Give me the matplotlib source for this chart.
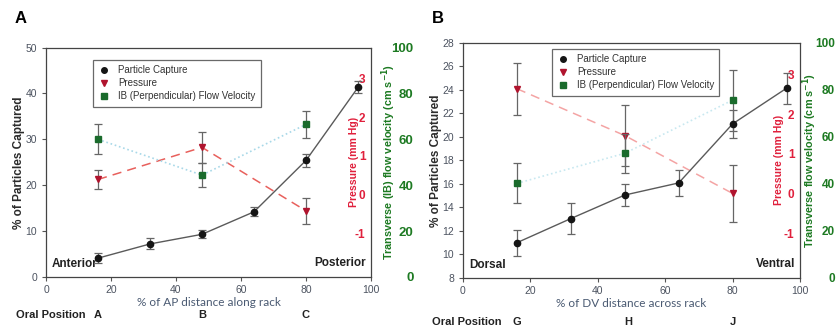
import matplotlib
matplotlib.use("Agg")
import matplotlib.pyplot as plt
from matplotlib.lines import Line2D

plt.rcParams['font.family'] = ['Liberation Sans', 'DejaVu Sans']
plt.rcParams['axes.unicode_minus'] = False

# ---- data ----
capture_x = [16, 32, 48, 64, 80, 96]
probe_x = [16, 48, 80]

# panel A (AP)
a_capture = [4.1, 7.2, 9.3, 14.2, 25.4, 41.3]
a_capture_err = [1.1, 1.2, 0.9, 1.0, 1.4, 1.3]
a_pressure = [0.39, 1.22, -0.42]
a_pressure_err = [0.25, 0.4, 0.33]
a_velocity = [60, 44.4, 66.5]
a_velocity_err = [6.5, 5.2, 6.0]
a_oral = ['A', 'B', 'C']

# panel B (DV)
b_capture = [11.0, 13.05, 15.05, 16.08, 21.1, 24.13]
b_capture_err = [1.1, 1.3, 0.9, 1.1, 1.2, 1.3]
b_pressure = [2.64, 1.46, 0.0]
b_pressure_err = [0.66, 0.76, 0.72]
b_velocity = [40.2, 53.0, 75.6]
b_velocity_err = [8.5, 8.2, 13.0]
b_oral = ['G', 'H', 'J']

fig = plt.figure(figsize=(8.38, 3.34), dpi=100)

tick_gray = '#4c5360'
red = '#e0203c'
green = '#1d7a22'


def panel(rect, letter, cap, cap_err, pres, pres_err, vel, vel_err,
          ylim, yticks, xlabel, vlabel, ends, oral, oral_x, oral_y,
          styles, leg_bbox, p_pad, v_pos, v_size, v_pad):
    ax = fig.add_axes(rect)
    ax_p = ax.twinx()
    ax_v = ax.twinx()
    for a in (ax_p, ax_v):
        for s in a.spines.values():
            s.set_visible(False)
    red_line, cyan_line = styles

    # velocity (green squares, dotted cyan)
    ax_v.errorbar(probe_x, vel, yerr=vel_err, color=cyan_line, ls=':', lw=1.2,
                  marker='s', ms=4.5, mfc='#1a6b2c', mec='#1a6b2c',
                  ecolor='#666666', elinewidth=0.9, capsize=3, capthick=0.9)
    # pressure (red triangles, dashed)
    ax_p.errorbar(probe_x, pres, yerr=pres_err, color=red_line, ls=(0, (6, 4)), lw=1.1,
                  marker='v', ms=5, mfc='#b0142e', mec='#b0142e',
                  ecolor='#666666', elinewidth=0.9, capsize=3, capthick=0.9)
    # particle capture
    ax.errorbar(capture_x, cap, yerr=cap_err, color='#5a5a5a', lw=1.0,
                marker='o', ms=4.5, mfc='#151515', mec='#151515',
                ecolor='#666666', elinewidth=0.9, capsize=3, capthick=0.9, zorder=5)
    ax.set_zorder(3)
    ax.patch.set_visible(False)

    ax.set_xlim(0, 100)
    ax.set_xticks([0, 20, 40, 60, 80, 100])
    ax.set_ylim(*ylim)
    ax.set_yticks(yticks)
    ax.tick_params(axis='both', direction='out', length=3, width=0.8,
                   colors='#555555', labelcolor=tick_gray, labelsize=7.5)
    ax.tick_params(axis='x', pad=3)
    for s in ax.spines.values():
        s.set_color('#444444')
        s.set_linewidth(0.9)
    ax.set_xlabel(xlabel, family=['Lato', 'DejaVu Sans'], fontsize=8.5,
                  color='#4a5a72', labelpad=1)
    ax.set_ylabel('% of Particles Captured', fontsize=8.5, fontweight='bold',
                  color='#2b2b2b', labelpad=0)

    # pressure axis, labels just inside the right edge
    ax_p.set_ylim(-2.13, 3.8)
    ax_p.set_yticks([-1, 0, 1, 2, 3])
    ax_p.spines['left'].set_position(('axes', 1.0))
    ax_p.yaxis.set_ticks_position('left')
    ax_p.yaxis.set_label_position('left')
    ax_p.tick_params(axis='y', length=0, pad=4, labelcolor=red, labelsize=8.5)
    for t in ax_p.get_yticklabels():
        t.set_fontweight('bold')
    ax_p.set_ylabel('Pressure (mm Hg)', color=red, fontsize=7.6,
                    fontweight='bold', labelpad=p_pad)

    # velocity axis, outside the box
    ax_v.set_ylim(0, 100)
    ax_v.set_yticks([0, 20, 40, 60, 80, 100])
    ax_v.spines['left'].set_position(('axes', v_pos))
    ax_v.yaxis.set_ticks_position('left')
    ax_v.yaxis.set_label_position('left')
    ax_v.tick_params(axis='y', length=0, pad=1, labelcolor=green, labelsize=v_size)
    for t in ax_v.get_yticklabels():
        t.set_fontweight('bold')
    ax_v.set_ylabel(vlabel, color=green, fontsize=7.8, fontweight='bold',
                    labelpad=v_pad)

    ax.text(0.018, 0.03, ends[0], transform=ax.transAxes, fontsize=8.5,
            fontweight='bold', color='#222222', ha='left', va='bottom')
    ax.text(0.985, 0.035, ends[1], transform=ax.transAxes, fontsize=8.5,
            fontweight='bold', color='#222222', ha='right', va='bottom')

    # oral positions under the axis
    ax.text(-0.093, oral_y, 'Oral Position', transform=ax.transAxes, fontsize=8,
            fontweight='bold', color='#222222', ha='left', va='center')
    for xx, lab in zip(oral_x, oral):
        ax.text(xx, oral_y, lab, transform=ax.get_xaxis_transform(), fontsize=8,
                fontweight='bold', color='#222222', ha='center', va='center')

    fig.text(rect[0] - 0.037, 0.945, letter, fontsize=12, fontweight='bold',
             ha='left', va='center')

    handles = [
        Line2D([], [], ls='none', marker='o', ms=4, mfc='#151515', mec='#151515'),
        Line2D([], [], ls='none', marker='v', ms=4, mfc='#b0142e', mec='#b0142e'),
        Line2D([], [], ls='none', marker='s', ms=4, mfc='#1a6b2c', mec='#1a6b2c'),
    ]
    leg = ax.legend(handles, ['Particle Capture', 'Pressure',
                              'IB (Perpendicular) Flow Velocity'],
                    loc='upper left', bbox_to_anchor=leg_bbox, borderaxespad=0,
                    fontsize=7, frameon=True, fancybox=False, handlelength=1.2,
                    handletextpad=0.8, labelspacing=0.3, borderpad=0.55,
                    labelcolor='#333333')
    leg.get_frame().set_edgecolor('#444444')
    leg.get_frame().set_linewidth(0.9)
    return ax


panel([0.0549, 0.1707, 0.3878, 0.687], 'A', a_capture, a_capture_err,
      a_pressure, a_pressure_err, a_velocity, a_velocity_err,
      (0, 50), [0, 10, 20, 30, 40, 50], '% of AP distance along rack',
      'Transverse (IB) flow velocity (cm s$^{\\mathbf{-1}}$)',
      ('Anterior', 'Posterior'), a_oral, [16, 48, 80], -0.166,
      ('#e8605c', '#a8d8e8'), (0.145, 0.945), -3, 1.135, 9.5, -5)

panel([0.5525, 0.1677, 0.4022, 0.7045], 'B', b_capture, b_capture_err,
      b_pressure, b_pressure_err, b_velocity, b_velocity_err,
      (8, 28), list(range(8, 29, 2)), '% of DV distance across rack',
      'Transverse flow velocity (cm s$^{\\mathbf{-1}}$)',
      ('Dorsal', 'Ventral'), b_oral, [16, 49, 80], -0.187,
      ('#f4a4a4', '#c8e8f0'), (0.264, 0.973), 0, 1.107, 8.5, -3)

fig.savefig('out.png', dpi=100)
